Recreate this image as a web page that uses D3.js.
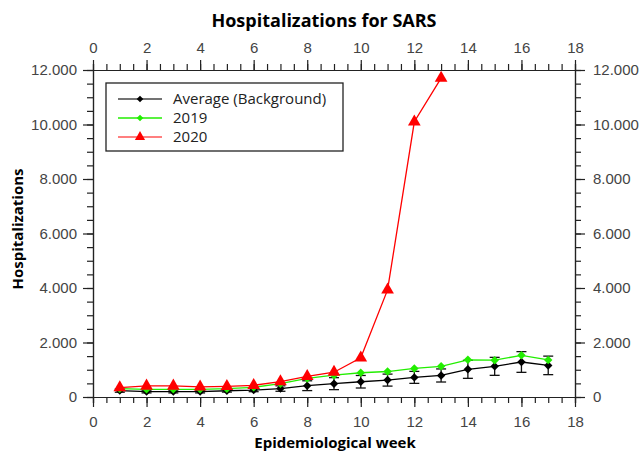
<!DOCTYPE html>
<html>
<head>
<meta charset="utf-8">
<script src="https://cdn.jsdelivr.net/npm/d3@7"></script>
<style>
  body { margin: 0; background: #fff; }
  svg { font-family: 'Open Sans', sans-serif; }
  .tick text { font-size: 15px; fill: #444; }
  .domain, .tick line { stroke: #222; stroke-width: 1.2; }
</style>
</head>
<body>
<svg id="chart" width="640" height="454"></svg>
<script>
var weeks = [1, 2, 3, 4, 5, 6, 7, 8, 9, 10, 11, 12, 13, 14, 15, 16, 17]
var average = [235, 200, 200, 200, 230, 255, 310, 415, 490, 560, 620, 720, 790, 1015, 1125, 1285, 1160]
var averageErr = [60, 50, 50, 50, 50, 60, 100, 180, 220, 230, 220, 220, 240, 330, 330, 380, 340]
var y2019 = [305, 280, 280, 280, 305, 355, 490, 680, 800, 890, 935, 1050, 1125, 1365, 1350, 1530, 1360]
var weeks2020 = [1, 2, 3, 4, 5, 6, 7, 8, 9, 10, 11, 12, 13]
var y2020 = [345, 405, 405, 370, 390, 430, 565, 760, 910, 1440, 3930, 10100, 11700]
var xTicks = [0, 2, 4, 6, 8, 10, 12, 14, 16, 18]
var yTicks = [0, 2000, 4000, 6000, 8000, 10000, 12000]

var svg = d3.select('#chart')

var x = d3.scaleLinear().domain([0, 18]).range([93, 575])
var y = d3.scaleLinear().domain([0, 12000]).range([397, 70])

var fmt = d3.formatLocale({ decimal: ',', thousands: '.', grouping: [3], currency: ['', ''] }).format(',')
var minorX = d3.range(0, 18.01, 0.5)
var minorY = d3.range(0, 12001, 500)

// minor ticks
svg.append('g').attr('transform', 'translate(0,397)')
    .call(d3.axisBottom(x).tickValues(minorX).tickSize(6).tickFormat(''))
svg.append('g').attr('transform', 'translate(0,70)')
    .call(d3.axisTop(x).tickValues(minorX).tickSize(6).tickFormat(''))
svg.append('g').attr('transform', 'translate(93,0)')
    .call(d3.axisLeft(y).tickValues(minorY).tickSize(6).tickFormat(''))
svg.append('g').attr('transform', 'translate(575,0)')
    .call(d3.axisRight(y).tickValues(minorY).tickSize(6).tickFormat(''))

// major ticks
svg.append('g').attr('transform', 'translate(0,397)')
    .call(d3.axisBottom(x).tickValues(xTicks).tickSize(10).tickPadding(9).tickSizeOuter(0))
svg.append('g').attr('transform', 'translate(0,70)')
    .call(d3.axisTop(x).tickValues(xTicks).tickSize(10).tickPadding(7).tickSizeOuter(0))
svg.append('g').attr('transform', 'translate(93,0)')
    .call(d3.axisLeft(y).tickValues(yTicks).tickFormat(fmt).tickSize(10).tickPadding(6).tickSizeOuter(0))
svg.append('g').attr('transform', 'translate(575,0)')
    .call(d3.axisRight(y).tickValues(yTicks).tickFormat(fmt).tickSize(10).tickPadding(8).tickSizeOuter(0))

// titles
svg.append('text').attr('x', 324).attr('y', 27).attr('text-anchor', 'middle')
    .style('font-size', '18px').style('font-weight', 'bold').text('Hospitalizations for SARS')
svg.append('text').attr('x', 335).attr('y', 448).attr('text-anchor', 'middle')
    .style('font-size', '15px').style('font-weight', 'bold').text('Epidemiological week')
svg.append('text').attr('transform', 'translate(23,229) rotate(-90)').attr('text-anchor', 'middle')
    .style('font-size', '15px').style('font-weight', 'bold').text('Hospitalizations')

var line = d3.line().x(d => x(d[0])).y(d => y(d[1]))
var square = d3.symbol().type(d3.symbolSquare)
var triangle = d3.symbol().type(d3.symbolTriangle)

var avgData = weeks.map((w, i) => [w, average[i], averageErr[i]])
var d2019 = weeks.map((w, i) => [w, y2019[i]])
var d2020 = weeks2020.map((w, i) => [w, y2020[i]])

// error bars
var eb = svg.append('g').attr('stroke', '#111').attr('stroke-width', 1.3)
avgData.forEach(d => {
  eb.append('line').attr('x1', x(d[0])).attr('x2', x(d[0]))
      .attr('y1', y(d[1] - d[2])).attr('y2', y(d[1] + d[2]))
  eb.append('line').attr('x1', x(d[0]) - 5).attr('x2', x(d[0]) + 5)
      .attr('y1', y(d[1] - d[2])).attr('y2', y(d[1] - d[2]))
  eb.append('line').attr('x1', x(d[0]) - 5).attr('x2', x(d[0]) + 5)
      .attr('y1', y(d[1] + d[2])).attr('y2', y(d[1] + d[2]))
})

function series (data, color, sym, size, rot) {
  svg.append('path').datum(data).attr('d', line)
      .attr('fill', 'none').attr('stroke', color).attr('stroke-width', 1.3)
  svg.selectAll(null).data(data).enter().append('path')
      .attr('d', sym.size(size)())
      .attr('transform', d => 'translate(' + x(d[0]) + ',' + y(d[1]) + ') rotate(' + rot + ')')
      .attr('fill', color)
}

series(avgData, '#000', square, 36, 45)
series(d2019, '#22ee00', square, 36, 45)
series(d2020, '#ff0000', triangle, 70, 0)

// legend
var legend = svg.append('g')
legend.append('rect').attr('x', 106).attr('y', 83).attr('width', 237).attr('height', 68)
    .attr('fill', '#fff').attr('stroke', '#222').attr('stroke-width', 1.3)
var items = [
  { name: 'Average (Background)', color: '#444', fill: '#000', sym: square, size: 22, rot: 45 },
  { name: '2019', color: '#22ee00', fill: '#22ee00', sym: square, size: 22, rot: 45 },
  { name: '2020', color: '#ff5555', fill: '#ff0000', sym: triangle, size: 45, rot: 0 }
]
items.forEach((it, i) => {
  var yy = 99 + i * 19
  legend.append('line').attr('x1', 118).attr('x2', 162).attr('y1', yy).attr('y2', yy)
      .attr('stroke', it.color).attr('stroke-width', 1.3)
  legend.append('path').attr('d', it.sym.size(it.size)())
      .attr('transform', 'translate(140,' + yy + ') rotate(' + it.rot + ')')
      .attr('fill', it.fill)
  legend.append('text').attr('x', 173).attr('y', yy + 5).style('font-size', '15px')
      .attr('fill', '#222').text(it.name)
})
</script>
</body>
</html>
